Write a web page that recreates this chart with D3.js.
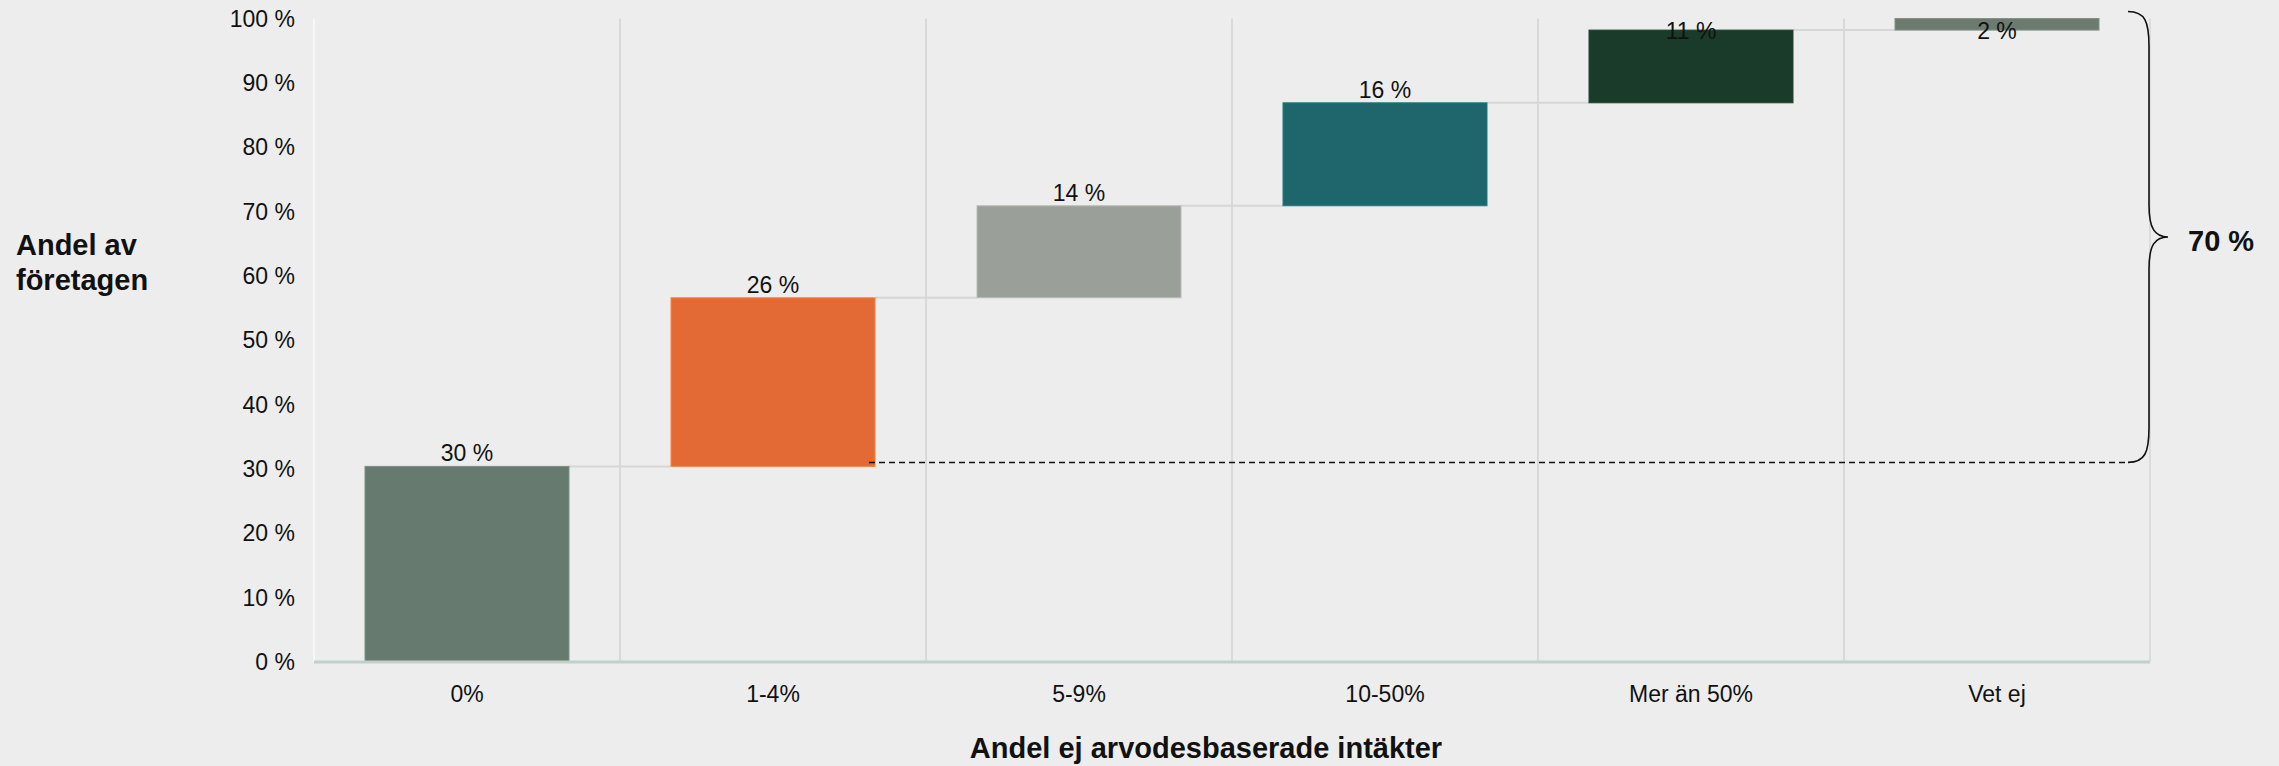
<!DOCTYPE html>
<html>
<head>
<meta charset="utf-8">
<script src="https://cdn.jsdelivr.net/npm/d3@7"></script>
<style>
    body { margin: 0; background: #ededed; }
    text { font-family: "Liberation Sans", Arial, sans-serif; fill: #111; }
</style>
</head>
<body>
<div id="chart"></div>
<script>
// data
var categories = ["0%", "1-4%", "5-9%", "10-50%", "Mer än 50%", "Vet ej"];
var values = [30.4, 26.2, 14.3, 16.0, 11.3, 1.8];
var colors = ["#667a70", "#e36a35", "#9a9f99", "#1e666b", "#1a3a2a", "#6c7a70"];
var yTicks = [0, 10, 20, 30, 40, 50, 60, 70, 80, 90, 100];
var braceLabel = "70 %";
var yTitle = ["Andel av", "företagen"];
var xTitle = "Andel ej arvodesbaserade intäkter";

var width = 2279;
var height = 766;
var margin = { left: 314, right: 129, top: 18.5, bottom: 104 };

var svg = d3.select('#chart')
    .append('svg')
    .attr('width', width)
    .attr('height', height);

svg.append('rect')
    .attr('width', width)
    .attr('height', height)
    .attr('fill', '#ededed');

// waterfall: each bar starts where the previous one ended
var bars = [];
var cum = 0;
for (var i = 0; i < values.length; i++) {
    bars.push({ cat: categories[i], y0: cum, y1: cum + values[i], v: values[i], c: colors[i] });
    cum += values[i];
}

var x = d3.scaleBand()
    .domain(categories)
    .range([margin.left, width - margin.right])
    .paddingInner(1 / 3)
    .paddingOuter(1 / 6);

var y = d3.scaleLinear()
    .domain([0, 100])
    .range([height - margin.bottom, margin.top]);

var step = x.step();
var gap = step - x.bandwidth();

// vertical gridlines between categories
var grid = svg.append('g');
categories.forEach(function (d, i) {
    var gx = x(d) - gap / 2;
    grid.append('line')
        .attr('x1', gx).attr('x2', gx)
        .attr('y1', y(100)).attr('y2', y(0))
        .attr('stroke', i == 0 ? '#f7f7f7' : '#d9d9d9')
        .attr('stroke-width', 2);
});
grid.append('line')
    .attr('x1', x.range()[1]).attr('x2', x.range()[1])
    .attr('y1', y(100)).attr('y2', y(0))
    .attr('stroke', '#dcdcdc')
    .attr('stroke-width', 2);

// connectors
svg.append('g')
    .selectAll('line')
    .data(bars.slice(0, bars.length - 1))
    .enter()
    .append('line')
    .attr('x1', d => x(d.cat) + x.bandwidth())
    .attr('x2', (d, i) => x(categories[i + 1]))
    .attr('y1', d => y(d.y1))
    .attr('y2', d => y(d.y1))
    .attr('stroke', '#d6d6d6')
    .attr('stroke-width', 2);

// bars
svg.append('g')
    .selectAll('rect')
    .data(bars)
    .enter()
    .append('rect')
    .attr('x', d => x(d.cat))
    .attr('width', x.bandwidth())
    .attr('y', d => y(d.y1))
    .attr('height', d => y(d.y0) - y(d.y1))
    .attr('fill', d => d.c)
    .attr('stroke', d => d3.color(d.c).brighter(0.5))
    .attr('stroke-width', 1);

// value labels (kept inside the top of the chart)
svg.append('g')
    .selectAll('text')
    .data(bars)
    .enter()
    .append('text')
    .attr('x', d => x(d.cat) + x.bandwidth() / 2)
    .attr('y', d => Math.max(y(d.y1) - 5, y(100) + 20))
    .attr('text-anchor', 'middle')
    .style('font-size', '23px')
    .text(d => Math.round(d.v) + ' %');

// x axis line
svg.append('line')
    .attr('x1', x.range()[0]).attr('x2', x.range()[1])
    .attr('y1', y(0)).attr('y2', y(0))
    .attr('stroke', '#c2d0cb')
    .attr('stroke-width', 3);

// y tick labels
svg.append('g')
    .selectAll('text')
    .data(yTicks)
    .enter()
    .append('text')
    .attr('x', margin.left - 19)
    .attr('y', d => y(d))
    .attr('dy', '0.35em')
    .attr('text-anchor', 'end')
    .style('font-size', '23px')
    .text(d => d + ' %');

// x tick labels
svg.append('g')
    .selectAll('text')
    .data(categories)
    .enter()
    .append('text')
    .attr('x', d => x(d) + x.bandwidth() / 2)
    .attr('y', y(0) + 40)
    .attr('text-anchor', 'middle')
    .style('font-size', '23px')
    .text(d => d);

// axis titles
svg.append('text')
    .attr('x', (x.range()[0] + x.range()[1]) / 2 - 26)
    .attr('y', height - 8)
    .attr('text-anchor', 'middle')
    .style('font-size', '29px')
    .style('font-weight', 'bold')
    .text(xTitle);

svg.append('text')
    .attr('x', 16)
    .attr('y', 255)
    .style('font-size', '29px')
    .style('font-weight', 'bold')
    .selectAll('tspan')
    .data(yTitle)
    .enter()
    .append('tspan')
    .attr('x', 16)
    .attr('dy', (d, i) => i == 0 ? 0 : 35)
    .text(d => d);

// dashed reference line at top of first bar and brace for the rest
var base = bars[0].y1;
var rightX = x.range()[1];
var dashY = y(base) - 4;
svg.append('line')
    .attr('x1', x(categories[1]) + x.bandwidth() - 6)
    .attr('x2', rightX - 22)
    .attr('y1', dashY).attr('y2', dashY)
    .attr('stroke', '#111')
    .attr('stroke-width', 1.5)
    .attr('stroke-dasharray', '6,4');

var braceTop = y(100) - 7;
var braceBot = dashY;
var braceMid = (braceTop + braceBot) / 2;
var sx = rightX - 1, tx = rightX - 22, px = rightX + 18;
var p = d3.path();
p.moveTo(tx, braceTop);
p.bezierCurveTo(sx - 4, braceTop, sx, braceTop + 10, sx, braceTop + 35);
p.lineTo(sx, braceMid - 32);
p.bezierCurveTo(sx, braceMid - 8, sx + 6, braceMid, px, braceMid);
p.bezierCurveTo(sx + 6, braceMid, sx, braceMid + 8, sx, braceMid + 32);
p.lineTo(sx, braceBot - 35);
p.bezierCurveTo(sx, braceBot - 10, sx - 4, braceBot, tx, braceBot);
svg.append('path')
    .attr('d', p.toString())
    .attr('fill', 'none')
    .attr('stroke', '#111')
    .attr('stroke-width', 1.6);

svg.append('text')
    .attr('x', px + 20)
    .attr('y', braceMid + 4)
    .attr('dy', '0.35em')
    .style('font-size', '29px')
    .style('font-weight', 'bold')
    .text(braceLabel);
</script>
</body>
</html>
